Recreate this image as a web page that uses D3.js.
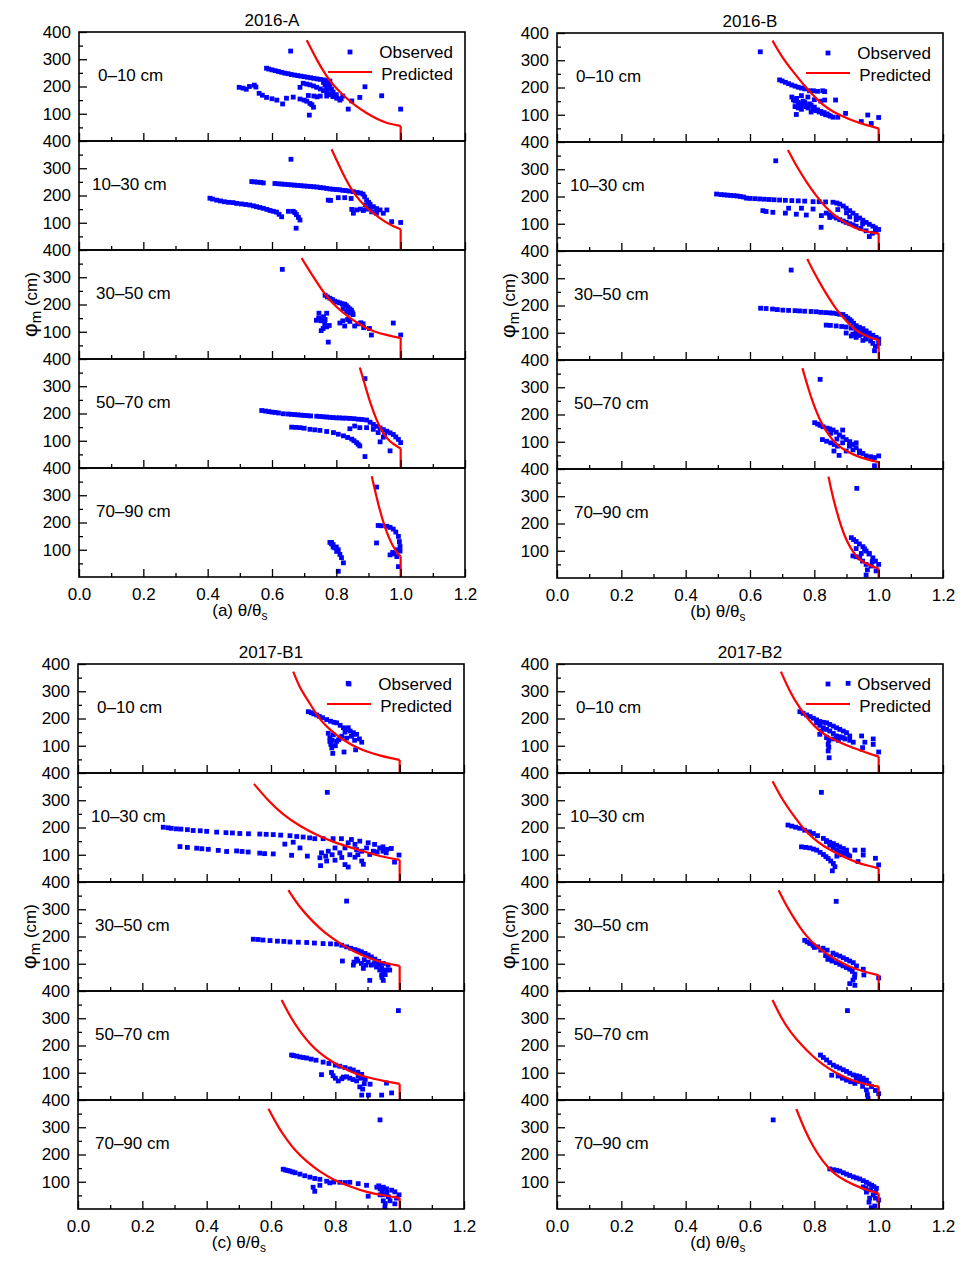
<!DOCTYPE html>
<html><head><meta charset="utf-8">
<script src="https://cdn.jsdelivr.net/npm/d3@7"></script>
<style>body{margin:0;background:#fff} text{font-family:"Liberation Sans",Arial,sans-serif}</style>
</head><body><script>
const panelTitles = ["2016-A","2016-B","2017-B1","2017-B2"];
const panelLetters = ["a","b","c","d"];
const depths = ["0–10 cm","10–30 cm","30–50 cm","50–70 cm","70–90 cm"];
const xMajor = [0,0.2,0.4,0.6,0.8,1.0,1.2];
const xMinor = [0.1,0.3,0.5,0.7,0.9,1.1];
const yMajor = [100,200,300,400];
const yMinor = [50,150,250,350];

// ---- 2016-A ----
const predA = [
 [[0.708,370],[0.74,295],[0.77,236],[0.80,192],[0.832,157],[0.86,128],[0.894,102],[0.92,85],[0.946,71],[0.97,62],[1.0,55]],
 [[0.785,370],[0.822,275],[0.853,208],[0.894,153],[0.936,116],[0.967,92],[1.0,76]],
 [[0.692,370],[0.728,302],[0.765,235],[0.80,190],[0.842,150],[0.88,122],[0.915,101],[0.96,87],[1.0,77]],
 [[0.873,369],[0.889,305],[0.905,239],[0.936,141],[0.967,93],[1.0,72]],
 [[0.910,370],[0.936,236],[0.962,143],[0.988,87],[1.0,76]]
];
const obsA = [
 [[0.583,267],[0.59,264],[0.60,261],[0.61,258],[0.62,255],[0.63,252],[0.64,249],[0.65,247],[0.66,244],[0.67,242],[0.68,240],[0.69,238],[0.70,236],[0.71,234],[0.72,232],[0.73,230],[0.74,228],[0.75,226],[0.76,224],[0.77,222],[0.78,220],
  [0.498,197],[0.51,194],[0.52,190],[0.53,200],[0.545,205],[0.55,198],[0.56,175],[0.57,168],[0.583,160],[0.60,155],[0.615,150],[0.633,136],[0.645,157],[0.666,161],[0.687,154],[0.70,150],[0.708,146],[0.718,138],[0.724,133],[0.729,124],[0.716,95],
  [0.687,197],[0.697,212],[0.708,209],[0.718,206],[0.729,202],[0.739,197],[0.75,191],[0.76,185],[0.77,179],[0.781,173],[0.79,165],[0.801,157],[0.811,150],
  [0.76,215],[0.765,205],[0.77,195],[0.775,210],[0.78,200],[0.785,190],[0.79,180],[0.78,170],[0.77,165],[0.75,165],[0.713,167],[0.73,165],[0.74,162],[0.79,163],[0.80,170],[0.82,165],[0.815,155],
  [0.658,330],[0.837,117],[0.848,147],[0.873,160],[0.889,199],[0.941,166],[1.0,117]],
 [[0.659,333],[0.537,251],[0.545,250],[0.555,249],[0.565,248],[0.573,246],
  [0.609,244],[0.62,243],[0.63,242],[0.64,241],[0.65,240],[0.66,239],[0.67,238],[0.68,237],[0.69,236],[0.70,235],[0.71,234],[0.72,233],[0.73,232],[0.74,231],[0.75,229],[0.76,228],[0.77,226],[0.78,224],[0.79,223],[0.80,222],[0.81,221],[0.82,219],[0.83,218],[0.84,216],[0.853,214],[0.865,211],[0.875,209],[0.883,205],[0.888,195],[0.894,183],[0.90,175],[0.905,168],[0.915,159],[0.925,152],[0.936,147],[0.957,147],
  [0.407,190],[0.415,187],[0.428,183],[0.44,180],[0.452,177],[0.465,175],[0.479,174],[0.49,171],[0.505,169],[0.518,167],[0.531,165],[0.542,162],[0.552,159],[0.562,156],[0.573,153],[0.584,149],[0.594,145],[0.604,142],[0.614,139],[0.622,131],[0.630,122],[0.651,142],[0.666,142],[0.671,137],[0.676,130],[0.682,120],[0.687,110],[0.675,80],
  [0.775,183],[0.782,182],[0.806,192],[0.826,192],[0.846,189],[0.848,149],[0.853,135],[0.863,147],[0.875,150],[0.884,145],[0.89,165],[0.895,150],[0.904,153],[0.91,140],[0.925,135],[0.946,135],[0.972,104],[1.0,101]],
 [[0.632,329],[0.765,234],[0.772,228],[0.780,223],[0.788,218],[0.795,212],[0.803,209],[0.81,206],[0.818,203],[0.826,201],[0.831,196],[0.836,190],[0.842,184],[0.847,179],[0.852,163],[0.821,185],[0.832,174],[0.842,168],[0.85,170],
  [0.811,132],[0.826,121],[0.842,138],[0.857,121],[0.867,129],[0.876,133],[0.883,129],[0.885,115],[0.903,112],[0.909,88],[0.977,132],[1.0,88],
  [0.746,168],[0.770,168],[0.738,142],[0.745,150],[0.753,140],[0.764,129],[0.759,112],[0.770,118],[0.778,123],[0.753,104],[0.775,62],[0.76,155],[0.765,145],[0.835,145],[0.82,140]],
 [[0.889,328],[0.568,211],[0.58,209],[0.59,207],[0.60,205],[0.61,204],[0.62,202],[0.635,199],[0.65,198],[0.66,197],[0.67,196],[0.68,195],[0.69,194],[0.70,193],[0.71,192],[0.72,191],[0.739,190],[0.75,189],[0.76,188],[0.77,187],[0.78,186],[0.79,185],[0.80,184],[0.81,184],[0.82,183],[0.83,183],[0.842,182],[0.855,181],[0.868,179],[0.88,178],[0.894,176],[0.905,168],[0.915,160],[0.925,153],[0.936,147],[0.946,141],[0.957,135],[0.967,129],[0.977,123],[0.985,114],[0.993,105],[1.0,93],
  [0.661,150],[0.674,149],[0.687,148],[0.70,146],[0.718,142],[0.733,140],[0.749,138],[0.77,134],[0.791,130],[0.806,124],[0.822,118],[0.835,112],[0.848,106],[0.855,100],[0.863,93],[0.868,87],[0.873,81],[0.889,42],
  [0.842,144],[0.857,154],[0.873,148],[0.894,148],[0.915,142],[0.936,96],[0.967,63],[0.946,113],[0.93,130],[0.95,120]],
 [[0.925,330],[0.780,127],[0.785,122],[0.790,119],[0.795,107],[0.801,94],[0.806,100],[0.811,83],[0.816,71],[0.822,52],[0.806,21],[0.785,127],[0.79,110],[0.80,110],
  [0.930,189],[0.94,188],[0.957,186],[0.967,182],[0.977,176],[0.985,165],[0.993,149],[0.996,130],[0.998,112],[0.998,95],[0.967,81],[0.975,90],[0.988,75],[0.993,38],[0.925,125],[0.98,85],[0.99,100]]
];

// ---- 2016-B ----
const predB = [
 [[0.670,372],[0.70,310],[0.734,258],[0.765,212],[0.796,172],[0.827,135],[0.858,111],[0.89,93],[0.920,78],[0.96,62],[1.0,50]],
 [[0.718,371],[0.745,310],[0.775,254],[0.805,203],[0.837,157],[0.868,125],[0.899,102],[0.925,86],[0.951,74],[0.975,68],[1.0,65]],
 [[0.778,371],[0.80,318],[0.826,265],[0.848,222],[0.868,186],[0.895,148],[0.920,117],[0.945,97],[0.971,83],[1.0,73]],
 [[0.763,370],[0.78,300],[0.796,241],[0.815,185],[0.837,137],[0.858,104],[0.878,82],[0.905,62],[0.930,48],[0.965,35],[1.0,25]],
 [[0.844,372],[0.855,310],[0.868,250],[0.883,190],[0.899,139],[0.92,95],[0.940,66],[0.97,47],[1.0,35]]
];
const obsB = [
 [[0.632,331],[0.692,228],[0.70,224],[0.71,219],[0.72,214],[0.73,209],[0.74,205],[0.75,201],[0.76,198],[0.77,195],[0.785,188],[0.797,188],[0.81,186],[0.826,188],
  [0.73,165],[0.735,155],[0.74,150],[0.745,160],[0.75,145],[0.755,140],[0.76,135],[0.765,150],[0.77,145],[0.775,130],[0.78,125],[0.785,140],[0.79,135],[0.795,120],[0.80,128],[0.805,115],[0.81,118],[0.815,110],[0.82,112],[0.825,105],[0.83,108],[0.835,100],[0.84,103],[0.845,98],[0.85,95],[0.76,170],[0.78,165],[0.80,155],[0.82,150],[0.74,130],[0.76,120],[0.75,125],[0.79,110],
  [0.744,101],[0.832,185],[0.832,154],[0.866,154],[0.897,105],[0.858,91],[0.873,91],[0.946,75],[0.966,99],[0.977,68],[1.0,90]],
 [[0.680,331],[0.496,209],[0.51,207],[0.52,206],[0.53,205],[0.54,204],[0.55,203],[0.56,202],[0.57,200],[0.58,198],[0.589,194],[0.60,193],[0.615,192],[0.63,191],[0.645,190],[0.66,189],[0.675,188],[0.692,187],[0.71,186],[0.73,185],[0.75,184],[0.77,183],[0.796,181],[0.815,181],[0.835,180],[0.858,179],[0.87,176],[0.879,172],[0.89,165],[0.899,157],[0.91,148],[0.920,139],[0.93,130],[0.941,121],[0.951,113],[0.961,105],[0.971,98],[0.982,91],[0.99,85],[1.0,79],
  [0.837,139],[0.848,133],[0.858,127],[0.868,121],[0.879,115],[0.89,110],[0.899,105],[0.91,100],[0.92,96],[0.930,91],[0.945,83],[0.961,74],[0.971,53],[0.98,65],[0.99,70],
  [0.640,148],[0.65,145],[0.671,142],[0.710,139],[0.720,157],[0.744,135],[0.760,157],[0.775,132],[0.796,154],[0.822,130],[0.821,87],[0.848,123],[0.873,152],[0.9,140],[0.91,125],[0.93,115],[0.95,100]],
 [[0.728,330],[0.633,190],[0.65,189],[0.67,187],[0.685,185],[0.702,183],[0.72,182],[0.74,181],[0.754,180],[0.77,179],[0.79,178],[0.806,177],[0.82,175],[0.835,174],[0.848,173],[0.858,172],[0.87,170],[0.879,168],[0.889,167],[0.897,160],[0.904,154],[0.91,148],[0.915,143],[0.922,135],[0.930,126],[0.94,120],[0.951,115],[0.961,107],[0.971,99],[0.982,91],[0.992,83],[1.0,61],
  [0.837,128],[0.85,127],[0.868,125],[0.885,123],[0.899,121],[0.915,117],[0.930,112],[0.944,107],[0.956,101],
  [0.899,99],[0.915,88],[0.930,83],[0.951,72],[0.946,94],[0.961,77],[0.982,61],[0.987,34],[1.0,77],[0.930,99],[0.971,88],[0.94,90],[0.96,85],[0.975,70],[0.99,50],[0.92,95]],
 [[0.818,329],[0.801,170],[0.81,165],[0.818,160],[0.827,155],[0.84,150],[0.848,147],[0.858,143],[0.868,135],[0.878,125],[0.889,117],[0.899,108],[0.91,99],[0.920,90],[0.93,78],[0.941,66],[0.951,57],[0.961,48],[0.975,45],[0.987,42],[1.0,48],[0.987,12],
  [0.825,108],[0.838,102],[0.851,96],[0.862,90],[0.872,84],[0.861,66],[0.877,50],[0.888,96],[0.909,84],[0.930,96],[0.899,66],[0.851,131],[0.888,143],[0.87,110],[0.92,70],[0.94,60],[0.91,100]],
 [[0.932,329],[0.915,148],[0.922,141],[0.930,134],[0.94,125],[0.951,115],[0.956,107],[0.961,99],[0.97,88],[0.982,74],[0.99,62],[1.0,50],[0.920,81],[0.93,78],[0.941,74],[0.95,62],[0.961,50],[0.961,11],[0.977,44],[0.992,26],[0.930,108],[0.946,90],[0.971,90],[0.98,60],[0.965,30]]
];

// ---- 2017-B1 ----
const predC = [
 [[0.669,372],[0.69,311],[0.711,274],[0.742,213],[0.77,172],[0.804,139],[0.835,114],[0.866,94],[0.90,77],[0.939,64],[0.97,55],[1.0,48]],
 [[0.547,360],[0.59,300],[0.638,246],[0.69,205],[0.742,172],[0.795,146],[0.846,127],[0.90,108],[0.949,92],[1.0,81]],
 [[0.654,370],[0.69,305],[0.731,253],[0.77,210],[0.815,174],[0.86,143],[0.908,119],[0.95,103],[1.0,92]],
 [[0.633,367],[0.66,305],[0.690,251],[0.72,207],[0.752,171],[0.79,140],[0.825,116],[0.86,98],[0.898,83],[0.95,70],[1.0,59]],
 [[0.592,368],[0.62,305],[0.649,254],[0.68,208],[0.711,174],[0.75,138],[0.794,107],[0.85,80],[0.897,62],[0.95,50],[1.0,40]]
];
const obsC = [
 [[0.840,329],[0.716,225],[0.725,221],[0.733,217],[0.742,213],[0.75,208],[0.76,203],[0.773,196],[0.785,190],[0.796,186],[0.804,184],[0.815,175],[0.825,166],[0.835,160],[0.846,154],[0.856,148],[0.866,142],[0.875,125],[0.882,113],[0.840,166],[0.856,142],[0.83,150],[0.85,135],[0.86,120],
  [0.778,146],[0.783,130],[0.783,116],[0.786,105],[0.789,92],[0.792,72],[0.804,116],[0.81,122],[0.815,128],[0.827,77],[0.863,85],[0.794,140],[0.835,128],[0.80,100],[0.82,135],[0.79,120]],
 [[0.775,329],[0.265,201],[0.28,199],[0.29,197],[0.306,195],[0.32,194],[0.34,192],[0.358,189],[0.38,188],[0.40,186],[0.431,183],[0.46,181],[0.48,180],[0.503,178],[0.53,177],[0.565,176],[0.585,175],[0.607,174],[0.63,172],[0.659,170],[0.68,167],[0.700,165],[0.72,162],[0.736,159],[0.762,159],[0.793,159],[0.819,159],[0.850,156],[0.876,150],[0.902,144],[0.922,138],[0.948,129],[0.974,123],[0.998,99],
  [0.317,130],[0.34,127],[0.369,124],[0.385,122],[0.405,120],[0.436,116],[0.462,112],[0.493,114],[0.51,112],[0.529,110],[0.565,106],[0.58,104],[0.607,103],[0.643,139],[0.669,146],[0.664,98],[0.690,125],[0.713,95],
  [0.752,89],[0.757,107],[0.754,60],[0.773,77],[0.778,113],[0.799,80],[0.799,125],[0.814,107],[0.830,125],[0.830,64],[0.840,55],[0.840,144],[0.861,91],[0.861,138],[0.882,77],[0.887,65],[0.882,113],[0.897,125],[0.918,113],[0.938,125],[0.958,107],[0.984,73],[0.845,100],[0.866,119],[0.907,101],[0.948,113],[0.77,95],[0.79,100],[0.82,90],[0.87,100],[0.93,110],[0.96,120]],
 [[0.835,330],[0.545,190],[0.56,189],[0.575,187],[0.597,185],[0.62,183],[0.64,182],[0.659,180],[0.685,179],[0.711,178],[0.735,176],[0.762,174],[0.785,173],[0.804,172],[0.82,168],[0.835,162],[0.848,157],[0.861,152],[0.871,148],[0.881,144],[0.892,138],[0.902,132],[0.912,125],[0.923,117],[0.935,109],[0.949,101],[0.964,95],
  [0.822,110],[0.858,106],[0.866,117],[0.881,101],[0.887,83],[0.902,106],[0.912,95],[0.928,88],[0.938,77],[0.944,59],[0.949,39],[0.907,39],[0.959,77],[0.969,77],[0.856,95],[0.928,106],[0.944,83],[0.87,110],[0.89,115],[0.895,95],[0.92,100],[0.935,95],[0.95,70],[0.945,50],[0.955,60]],
 [[0.996,328],[0.664,165],[0.67,163],[0.68,161],[0.69,158],[0.70,156],[0.711,154],[0.725,150],[0.74,146],[0.762,139],[0.78,134],[0.80,128],[0.814,124],[0.83,119],[0.845,114],[0.856,110],[0.87,102],[0.882,94],[0.893,76],
  [0.757,93],[0.788,101],[0.809,70],[0.825,84],[0.845,80],[0.866,70],[0.876,48],[0.882,18],[0.903,18],[0.908,58],[0.944,18],[0.959,62],[0.975,26],[0.871,88],[0.793,89],[0.80,80],[0.82,78],[0.835,85],[0.855,75],[0.88,80],[0.89,60],[0.885,40]],
 [[0.939,327],[0.638,146],[0.645,143],[0.652,141],[0.659,139],[0.667,136],[0.675,133],[0.69,128],[0.705,122],[0.721,117],[0.736,112],[0.752,109],[0.773,102],[0.795,99],[0.814,98],[0.83,97],[0.845,98],[0.871,93],[0.897,87],[0.731,80],[0.736,65],[0.752,87],[0.783,96],
  [0.929,80],[0.939,74],[0.949,80],[0.959,74],[0.975,69],[0.985,63],[0.998,52],[0.902,47],[0.939,52],[0.949,30],[0.954,4],[0.970,30],[0.985,19],[0.949,52],[0.935,85],[0.945,65],[0.96,60],[0.965,45],[0.99,40],[0.955,20]]
];

// ---- 2017-B2 ----
const predD = [
 [[0.696,372],[0.725,295],[0.755,237],[0.785,190],[0.817,152],[0.848,130],[0.879,113],[0.91,97],[0.941,84],[0.97,71],[1.0,60]],
 [[0.670,370],[0.70,303],[0.734,246],[0.765,197],[0.796,160],[0.827,133],[0.858,112],[0.895,90],[0.931,72],[0.965,60],[1.0,50]],
 [[0.689,370],[0.71,320],[0.734,272],[0.755,234],[0.776,201],[0.805,165],[0.837,137],[0.875,110],[0.910,88],[0.955,71],[1.0,58]],
 [[0.670,367],[0.695,305],[0.724,251],[0.76,201],[0.796,159],[0.83,126],[0.869,98],[0.905,78],[0.941,63],[0.97,55],[1.0,49]],
 [[0.744,367],[0.77,290],[0.796,229],[0.825,176],[0.858,132],[0.895,104],[0.931,84],[0.965,69],[1.0,57]]
];
const obsD = [
 [[0.905,329],[0.755,225],[0.765,219],[0.776,213],[0.787,207],[0.797,201],[0.807,195],[0.817,189],[0.828,186],[0.838,184],[0.848,178],[0.859,172],[0.869,166],[0.879,160],[0.89,154],[0.900,148],[0.910,136],[0.807,184],[0.817,175],[0.828,166],[0.838,160],[0.848,154],[0.859,145],[0.869,136],[0.880,133],[0.890,130],
  [0.817,142],[0.822,154],[0.838,130],[0.843,105],[0.843,81],[0.846,56],[0.845,120],[0.845,95],[0.921,113],[0.947,136],[0.957,113],[0.983,125],[0.983,105],[0.950,93],[1.0,77],[0.86,125],[0.875,120],[0.895,125],[0.91,120]],
 [[0.822,329],[0.718,209],[0.73,205],[0.742,201],[0.755,197],[0.77,190],[0.785,184],[0.797,178],[0.81,170],[0.828,160],[0.838,152],[0.848,146],[0.859,141],[0.869,135],[0.879,129],[0.890,123],[0.900,117],[0.848,135],[0.859,126],[0.869,117],[0.880,111],[0.890,105],[0.905,99],[0.838,148],
  [0.760,129],[0.773,127],[0.786,125],[0.797,121],[0.807,117],[0.818,109],[0.828,101],[0.836,93],[0.843,86],[0.851,77],[0.859,68],[0.864,56],[0.856,41],
  [0.926,117],[0.952,117],[0.952,99],[0.936,75],[0.990,87],[1.0,63],[0.87,95],[0.885,100],[0.9,105],[0.91,95]],
 [[0.868,329],[0.770,186],[0.778,180],[0.786,174],[0.796,168],[0.81,162],[0.827,157],[0.84,150],[0.858,139],[0.868,133],[0.879,128],[0.89,122],[0.900,116],[0.91,110],[0.921,104],[0.931,92],[0.842,116],[0.855,110],[0.868,104],[0.879,98],[0.889,92],[0.90,86],[0.910,80],[0.918,72],[0.926,62],[0.910,27],[0.926,21],[0.92,40],[0.925,50],[0.952,80],[0.954,59],[1.0,48],[0.80,160],[0.82,150],[0.835,130],[0.85,125]],
 [[0.903,328],[0.819,165],[0.828,156],[0.838,147],[0.848,137],[0.859,128],[0.869,122],[0.879,117],[0.89,111],[0.900,105],[0.91,98],[0.921,92],[0.931,89],[0.941,86],[0.952,80],[0.962,73],[0.97,60],[0.978,49],[0.99,35],[1.0,23],[0.854,91],[0.874,88],[0.887,80],[0.900,73],[0.913,67],[0.926,61],[0.941,68],[0.95,50],[0.962,37],[0.967,6],[0.965,20],[0.93,80],[0.945,75],[0.955,65]],
 [[0.672,327],[0.848,147],[0.86,144],[0.869,142],[0.879,139],[0.89,133],[0.900,128],[0.91,123],[0.921,118],[0.931,114],[0.941,110],[0.952,104],[0.962,98],[0.97,92],[0.978,87],[0.985,82],[0.993,76],[1.0,33],[0.962,62],[0.972,40],[0.977,5],[0.988,11],[0.952,81],[0.983,51],[0.975,70],[0.99,60],[0.97,25],[0.99,40],[0.96,75]]
];

const preds = [predA, predB, predC, predD];
const obss = [obsA, obsB, obsC, obsD];

const FONT = '"Liberation Sans", Arial, sans-serif';
const BLUE = "#0000ff", RED = "#ff0000";
const svg = d3.select("body").append("svg").attr("width", 971).attr("height", 1277);
const frames = [{l:79,t:32},{l:557,t:33},{l:78,t:664},{l:557,t:664}];
const PW = 386, SH = 109;
const depthDx = [19,13,17,17,17];

panelTitles.forEach((title, p) => {
  const {l, t} = frames[p];
  const g = svg.append("g");
  const x = d3.scaleLinear().domain([0, 1.2]).range([l, l + PW]);

  g.append("text").attr("x", l + PW/2).attr("y", t - 6).attr("text-anchor", "middle")
    .attr("font-size", 17).text(title);

  depths.forEach((dl, i) => {
    const top = t + i*SH, bot = t + (i+1)*SH;
    const y = d3.scaleLinear().domain([0, 400]).range([bot, top]);
    const cid = `clip${p}_${i}`;
    g.append("clipPath").attr("id", cid).append("rect")
      .attr("x", l).attr("y", top).attr("width", PW).attr("height", SH);
    const sg = g.append("g").attr("clip-path", `url(#${cid})`);

    sg.selectAll("rect.o").data(obss[p][i]).join("rect").attr("class","o")
      .attr("x", d => x(d[0]) - 2.4).attr("y", d => y(d[1]) - 2.4)
      .attr("width", 4.8).attr("height", 4.8).attr("fill", BLUE);

    const pr = preds[p][i];
    sg.append("path")
      .attr("d", d3.line().x(d => x(d[0])).y(d => y(d[1])).curve(d3.curveBasis)(pr))
      .attr("fill", "none").attr("stroke", RED).attr("stroke-width", 2.2);
    const last = pr[pr.length - 1];
    sg.append("path")
      .attr("d", d3.line().x(d => x(d[0])).y(d => y(d[1]))([[last[0], last[1]], [last[0], 0]]))
      .attr("fill", "none").attr("stroke", RED).attr("stroke-width", 2.2);

    // y axis
    const yax = g.append("g").attr("transform", `translate(${l},0)`)
      .call(d3.axisLeft(y).tickValues(yMajor).tickSizeInner(-8).tickSizeOuter(0).tickPadding(8).tickFormat(d3.format("d")));
    yax.select(".domain").remove();
    yax.attr("font-size", 17).attr("font-family", FONT);
    yax.selectAll("line").attr("stroke-width", 1.3);
    const yaxm = g.append("g").attr("transform", `translate(${l},0)`)
      .call(d3.axisLeft(y).tickValues(yMinor).tickSizeInner(-4).tickSizeOuter(0).tickFormat(""));
    yaxm.select(".domain").remove();
    yaxm.selectAll("line").attr("stroke-width", 1.3);

    // x axis
    const xax = g.append("g").attr("transform", `translate(0,${bot})`)
      .call(d3.axisBottom(x).tickValues(xMajor).tickSizeInner(-8).tickSizeOuter(0).tickPadding(11)
        .tickFormat(i === 4 ? d3.format(".1f") : ""));
    xax.select(".domain").remove();
    xax.attr("font-size", 17).attr("font-family", FONT);
    xax.selectAll("line").attr("stroke-width", 1.3);
    const xaxm = g.append("g").attr("transform", `translate(0,${bot})`)
      .call(d3.axisBottom(x).tickValues(xMinor).tickSizeInner(-4).tickSizeOuter(0).tickFormat(""));
    xaxm.select(".domain").remove();
    xaxm.selectAll("line").attr("stroke-width", 1.3);

    g.append("text").attr("x", l + depthDx[i]).attr("y", top + 49)
      .attr("font-size", 17).text(dl);

    g.append("rect").attr("x", l).attr("y", top).attr("width", PW).attr("height", SH)
      .attr("fill", "none").attr("stroke", "#000").attr("stroke-width", 1.6);
  });

  // legend
  const r = l + PW;
  g.append("rect").attr("x", r - 115 - 2.4).attr("y", t + 20 - 2.4).attr("width", 4.8).attr("height", 4.8).attr("fill", BLUE);
  g.append("line").attr("x1", r - 137).attr("x2", r - 93).attr("y1", t + 40).attr("y2", t + 40)
    .attr("stroke", RED).attr("stroke-width", 2.2);
  g.append("text").attr("x", r - 12).attr("y", t + 26).attr("text-anchor", "end").attr("font-size", 17).text("Observed");
  g.append("text").attr("x", r - 12).attr("y", t + 48).attr("text-anchor", "end").attr("font-size", 17).text("Predicted");

  // y label
  const yl = g.append("text").attr("transform", `translate(${l - 42},${t + 2.5*SH}) rotate(-90)`)
    .attr("text-anchor", "middle").attr("font-size", 17);
  yl.append("tspan").attr("font-size", 21).text("φ");
  yl.append("tspan").attr("font-size", 15).attr("dy", 4).text("m");
  yl.append("tspan").attr("dy", -4).text(" (cm)");

  // x label
  const xl = g.append("text").attr("x", x(0.5)).attr("y", t + 5*SH + 39)
    .attr("text-anchor", "middle").attr("font-size", 17);
  xl.append("tspan").text(`(${panelLetters[p]}) θ/θ`);
  xl.append("tspan").attr("font-size", 12).attr("dy", 4).text("s");
});
</script></body></html>
